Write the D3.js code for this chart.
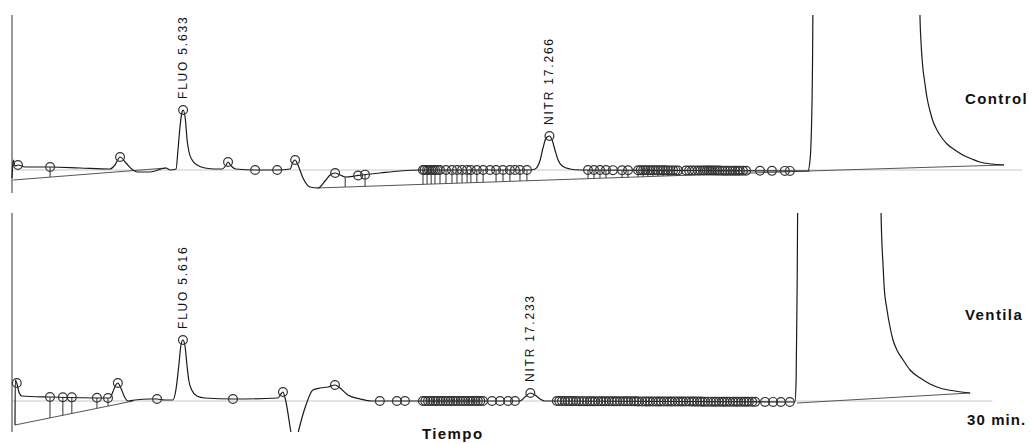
<!DOCTYPE html>
<html><head><meta charset="utf-8">
<script src="https://cdn.jsdelivr.net/npm/d3@7"></script>
<style>body{margin:0;background:#fff}svg{display:block}</style></head>
<body>
<script>
// ---- Control chromatogram: [time (min), response] ----
const ctrlTrace = [[0.20,-8],[0.24,10],[0.30,4],[0.39,5],[0.62,3],[1.41,3],[2.36,2],[3.31,1],[3.47,5],[3.63,13],[3.82,7],[4.04,0],[4.17,-2],[4.58,-2],[5.09,2],[5.22,0],[5.41,1],[5.47,20],[5.54,45],[5.60,58],[5.633,60],[5.70,52],[5.76,30],[5.82,18],[5.92,10],[6.08,5],[6.33,2],[6.65,1],[6.87,1],[7.00,5],[7.06,8],[7.16,4],[7.31,1],[7.92,0],[8.62,0],[9.03,1],[9.12,8],[9.19,10],[9.28,5],[9.44,-8],[9.66,-17],[9.92,-18],[10.14,-11],[10.30,-5],[10.46,-3],[10.62,-5],[10.78,-7],[11.09,-6],[11.31,-5],[11.89,-3],[12.52,-1],[13.16,0],[16.65,0],[16.81,1],[16.97,10],[17.06,22],[17.16,32],[17.266,34],[17.35,30],[17.44,20],[17.54,10],[17.67,4],[17.92,1],[18.24,0],[25.47,-1],[25.54,10],[25.60,63],[25.63,160],[25.65,600],[29.01,600],[29.03,155],[29.06,130],[29.12,103],[29.19,86],[29.25,73],[29.35,59],[29.44,49],[29.57,40],[29.73,32],[29.89,26],[30.14,20],[30.39,15],[30.68,11],[30.93,8],[31.31,6],[31.70,5]];
const ctrlPeaks = [0.39,1.41,3.63,5.633,7.06,7.92,8.62,9.19,10.46,11.19,11.41,13.25,13.30,13.38,13.44,13.51,13.57,13.63,13.71,13.79,13.98,14.17,14.33,14.49,14.65,14.77,14.96,15.16,15.38,15.57,15.79,16.01,16.17,16.33,16.55,17.266,18.49,18.68,18.87,19.06,19.28,19.57,19.76,20.08,20.16,20.24,20.31,20.39,20.47,20.55,20.63,20.71,20.79,20.87,20.95,21.03,21.11,21.19,21.27,21.35,21.60,21.70,21.79,21.88,21.98,22.06,22.14,22.20,22.27,22.33,22.39,22.45,22.52,22.60,22.67,22.76,22.84,22.92,23.00,23.08,23.16,23.24,23.31,23.41,23.51,23.95,24.33,24.74,24.90];
const ctrlDrops = [1.41,10.78,11.41,13.25,13.38,13.51,13.63,13.79,13.98,14.17,14.33,14.49,14.65,14.77,14.96,15.16,15.57,15.79,16.01,16.33,16.55,18.49,18.68,18.87,19.06,19.57,19.76,20.08,20.24,20.39,20.55,20.71,20.87,21.03];
const ctrlBaselines = [[0.24,-10,5.09,2],[9.89,-18,25.54,-1],[25.47,-1,31.70,5]];
const ctrlLabelNames = ["FLUO 5.633","NITR 17.266"];
const ctrlLabelTimes = [5.633,17.266];

// ---- Ventila chromatogram ----
const ventTrace = [[0.00,-24],[0.01,21],[0.06,18],[0.13,9],[0.23,5],[1.17,4],[3.17,3],[3.27,9],[3.37,16],[3.44,18],[3.54,13],[3.68,3],[3.78,0],[4.01,1],[4.51,2],[4.75,2],[5.01,1],[5.28,1],[5.38,11],[5.48,36],[5.55,56],[5.616,61],[5.68,56],[5.75,36],[5.81,21],[5.91,11],[6.08,5],[6.35,3],[7.29,2],[8.79,3],[8.89,7],[8.96,9],[9.03,3],[9.36,-46],[9.49,-29],[9.73,-4],[9.96,11],[10.20,13],[10.47,14],[10.70,16],[10.87,13],[11.13,6],[11.54,2],[11.94,0],[16.89,0],[17.05,4],[17.233,8],[17.39,6],[17.56,2],[17.72,0],[26.08,-1],[26.12,21],[26.15,101],[26.17,188],[26.18,700],[28.94,700],[28.96,188],[29.03,134],[29.06,116],[29.16,91],[29.26,74],[29.36,61],[29.49,51],[29.70,41],[29.93,31],[30.27,23],[30.60,17],[30.93,13],[31.43,10],[31.94,8]];
const ventPeaks = [0.06,1.17,1.60,1.90,2.74,3.11,3.44,4.75,5.616,7.29,8.96,10.70,12.20,12.77,13.04,13.64,13.72,13.81,13.89,13.98,14.06,14.14,14.23,14.31,14.40,14.48,14.56,14.65,14.73,14.81,14.90,14.98,15.06,15.15,15.23,15.31,15.40,15.48,15.56,15.65,15.95,16.22,16.49,16.72,17.233,18.12,18.20,18.29,18.39,18.49,18.57,18.66,18.76,18.86,18.95,19.03,19.13,19.23,19.31,19.39,19.50,19.60,19.68,19.76,19.86,19.96,20.05,20.13,20.23,20.33,20.42,20.50,20.60,20.70,20.78,20.86,20.97,21.07,21.15,21.23,21.33,21.43,21.52,21.60,21.70,21.80,21.89,21.97,22.07,22.17,22.26,22.34,22.44,22.54,22.63,22.71,22.81,22.91,22.99,23.07,23.17,23.27,23.36,23.44,23.54,23.64,23.72,23.81,23.91,24.01,24.10,24.18,24.28,24.38,24.46,24.54,24.65,24.75,25.08,25.35,25.61,25.91];
const ventDrops = [1.17,1.60,1.90,2.74,3.11];
const ventBaselines = [[0.00,-24,3.95,0],[26.15,-2,31.94,8]];
const ventLabelNames = ["FLUO 5.616","NITR 17.233"];
const ventLabelTimes = [5.616,17.233];

const axisTitle = "Tiempo";
const endLabel = "30 min.";

const W = 1033, H = 444;
const svg = d3.select("body").append("svg").attr("width", W).attr("height", H)
  .style("font-family", "'Liberation Sans', Arial, sans-serif");

const panels = [
  {id:"c", name:"Control", trace:ctrlTrace, peaks:ctrlPeaks, drops:ctrlDrops, bases:ctrlBaselines,
   lnames:ctrlLabelNames, ltimes:ctrlLabelTimes, tDom:[0.2,32.27], vDom:[-23,155], xr:[12,1022], yr:[193,15], nameY:104},
  {id:"v", name:"Ventila", trace:ventTrace, peaks:ventPeaks, drops:ventDrops, bases:ventBaselines,
   lnames:ventLabelNames, ltimes:ventLabelTimes, tDom:[-0.1,32.67], vDom:[-31,188], xr:[12,992], yr:[432,213], nameY:320}
];

const defs = svg.append("defs");

panels.forEach(p => {
  const x = d3.scaleLinear().domain(p.tDom).range(p.xr);
  const y = d3.scaleLinear().domain(p.vDom).range(p.yr);
  const interp = d3.scaleLinear().domain(p.trace.map(d => d[0])).range(p.trace.map(d => d[1]));
  const baseAt = t => {
    const s = p.bases.find(b => t >= b[0] && t <= b[2]);
    if (!s) return null;
    return s[1] + (s[3] - s[1]) * (t - s[0]) / (s[2] - s[0]);
  };
  defs.append("clipPath").attr("id", "clip-" + p.id).append("rect")
    .attr("x", 0).attr("y", p.yr[1]).attr("width", W).attr("height", p.yr[0] - p.yr[1]);
  const g = svg.append("g");
  g.append("line").attr("x1", p.xr[0]).attr("x2", p.xr[1]).attr("y1", y(0)).attr("y2", y(0))
    .attr("stroke", "#c8c8c8").attr("stroke-width", 1);
  g.append("line").attr("x1", p.xr[0]).attr("x2", p.xr[0]).attr("y1", p.yr[1]).attr("y2", p.yr[0])
    .attr("stroke", "#333").attr("stroke-width", 1);
  const cg = g.append("g").attr("clip-path", "url(#clip-" + p.id + ")");
  cg.selectAll("line.base").data(p.bases).join("line").attr("class", "base")
    .attr("x1", d => x(d[0])).attr("y1", d => y(d[1])).attr("x2", d => x(d[2])).attr("y2", d => y(d[3]))
    .attr("stroke", "#555").attr("stroke-width", 1);
  cg.selectAll("line.drop").data(p.drops).join("line").attr("class", "drop")
    .attr("x1", d => x(d)).attr("x2", d => x(d))
    .attr("y1", d => y(interp(d))).attr("y2", d => y(baseAt(d) ?? interp(d)))
    .attr("stroke", "#444").attr("stroke-width", 1.1);
  cg.append("path").datum(p.trace)
    .attr("d", d3.line().curve(d3.curveMonotoneX).x(d => x(d[0])).y(d => y(d[1])))
    .attr("fill", "none").attr("stroke", "#1a1a1a").attr("stroke-width", 1.2);
  cg.selectAll("circle.pk").data(p.peaks).join("circle").attr("class", "pk")
    .attr("cx", d => x(d)).attr("cy", d => y(interp(d))).attr("r", 4.4)
    .attr("fill", "none").attr("stroke", "#333").attr("stroke-width", 1.2);
  g.selectAll("text.pl").data(p.ltimes).join("text").attr("class", "pl")
    .attr("transform", d => `translate(${x(d) + 4},${y(interp(d)) - 11}) rotate(-90)`)
    .attr("font-size", 12).attr("letter-spacing", 1.8).attr("fill", "#111")
    .text((d, i) => p.lnames[i]);
  g.append("text").attr("x", 965).attr("y", p.nameY).attr("font-size", 15).attr("font-weight", "bold")
    .attr("letter-spacing", 1.4).attr("fill", "#111").text(p.name);
});

svg.append("text").attr("x", 967).attr("y", 425).attr("font-size", 15).attr("font-weight", "bold")
  .attr("letter-spacing", 1.1).attr("fill", "#111").text(endLabel);
svg.append("text").attr("x", 422).attr("y", 439).attr("font-size", 15).attr("font-weight", "bold")
  .attr("letter-spacing", 1.4).attr("fill", "#111").text(axisTitle);
</script>
</body></html>
